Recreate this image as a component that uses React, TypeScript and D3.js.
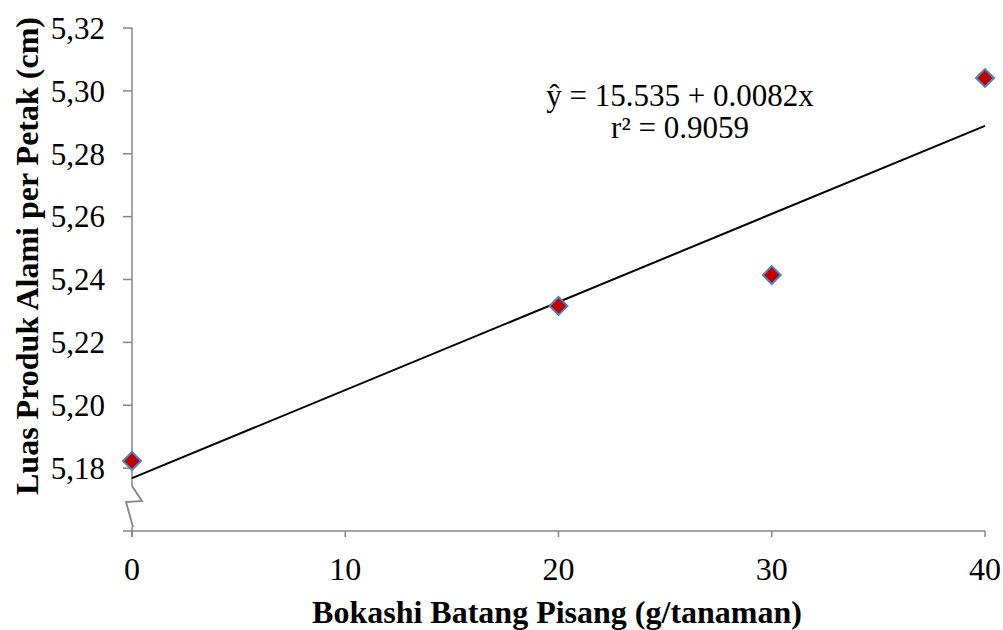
import React from 'react';
import * as d3 from 'd3';

const doses = [0, 20, 30, 40];
const luas = [5.1823, 5.2316, 5.2414, 5.3041];
const xTicks = [0, 10, 20, 30, 40];
const yTicks = [5.16, 5.18, 5.2, 5.22, 5.24, 5.26, 5.28, 5.3, 5.32];
const equation = ['ŷ = 15.535 + 0.0082x', 'r² = 0.9059'];

const width = 1003;
const height = 630;
const margin = { top: 28, right: 18, bottom: 99, left: 132 };
const axisColor = '#868686';
const font = '"Liberation Serif", "Times New Roman", serif';

export default function App() {
  const x = d3
    .scaleLinear()
    .domain([0, 40])
    .range([margin.left, width - margin.right]);
  const y = d3
    .scaleLinear()
    .domain([5.16, 5.32])
    .range([height - margin.bottom, margin.top]);

  // trend line (least squares from the points)
  const mx = d3.mean(doses)!;
  const my = d3.mean(luas)!;
  const sxy = d3.sum(doses, (d, i) => (d - mx) * (luas[i] - my));
  const sxx = d3.sum(doses, (d) => (d - mx) ** 2);
  const slope = sxy / sxx;
  const icpt = my - slope * mx;
  const line = d3
    .line<number>()
    .x((d) => x(d))
    .y((d) => y(icpt + slope * d));

  const x0 = x(0);
  const yBase = y(5.16);
  const breakTop = yBase - 45;
  const breakBot = yBase - 4;
  const diamond = d3.symbol(d3.symbolSquare, 160)();

  return (
    <svg
      width={width}
      height={height}
      style={{ position: 'absolute', left: 0, top: 0, background: '#fff' }}
      fontFamily={font}
    >
      {/* y axis */}
      <line x1={x0} x2={x0} y1={y(5.32)} y2={yBase + 6} stroke={axisColor} strokeWidth={1.5} />
      {yTicks.map((t) => (
        <g key={t}>
          <line x1={x0 - 9} x2={x0} y1={y(t)} y2={y(t)} stroke={axisColor} strokeWidth={1.5} />
          {t >= 5.18 && (
            <text x={x0 - 27} y={y(t)} dy="0.35em" textAnchor="end" fontSize={31}>
              {d3.format('.2f')(t).replace('.', ',')}
            </text>
          )}
        </g>
      ))}
      {/* axis break */}
      <rect x={x0 - 3} y={breakTop} width={6} height={breakBot - breakTop} fill="#fff" />
      <path
        d={`M${x0},${breakTop} L${x0 + 10},${breakTop + 15} L${x0 - 6},${breakTop + 16} L${x0 + 1},${breakBot}`}
        fill="none"
        stroke={axisColor}
        strokeWidth={1.8}
      />
      {/* x axis */}
      <line x1={x0} x2={x(40)} y1={yBase} y2={yBase} stroke={axisColor} strokeWidth={1.5} />
      {xTicks.map((t) => (
        <g key={t}>
          <line x1={x(t)} x2={x(t)} y1={yBase} y2={yBase + 6} stroke={axisColor} strokeWidth={1.5} />
          <text x={x(t)} y={yBase + 49} textAnchor="middle" fontSize={32}>
            {t}
          </text>
        </g>
      ))}
      {/* trend */}
      <path d={line([0, 40]) ?? ''} stroke="#000" strokeWidth={2} fill="none" />
      {doses.map((d, i) => (
        <path
          key={d}
          d={diamond ?? ''}
          transform={`translate(${x(d)},${y(luas[i])}) rotate(45)`}
          fill="#C00000"
          stroke="#4F81BD"
          strokeWidth={2}
        />
      ))}
      {/* equation */}
      <text x={680} y={106} textAnchor="middle" fontSize={31}>
        {equation[0]}
      </text>
      <text x={680} y={138} textAnchor="middle" fontSize={31}>
        {equation[1]}
      </text>
      {/* titles */}
      <text x={557} y={623} textAnchor="middle" fontSize={32} fontWeight="bold">
        Bokashi Batang Pisang (g/tanaman)
      </text>
      <text
        transform={`translate(38,${256}) rotate(-90)`}
        textAnchor="middle"
        fontSize={32}
        fontWeight="bold"
      >
        Luas Produk Alami per Petak (cm)
      </text>
    </svg>
  );
}
